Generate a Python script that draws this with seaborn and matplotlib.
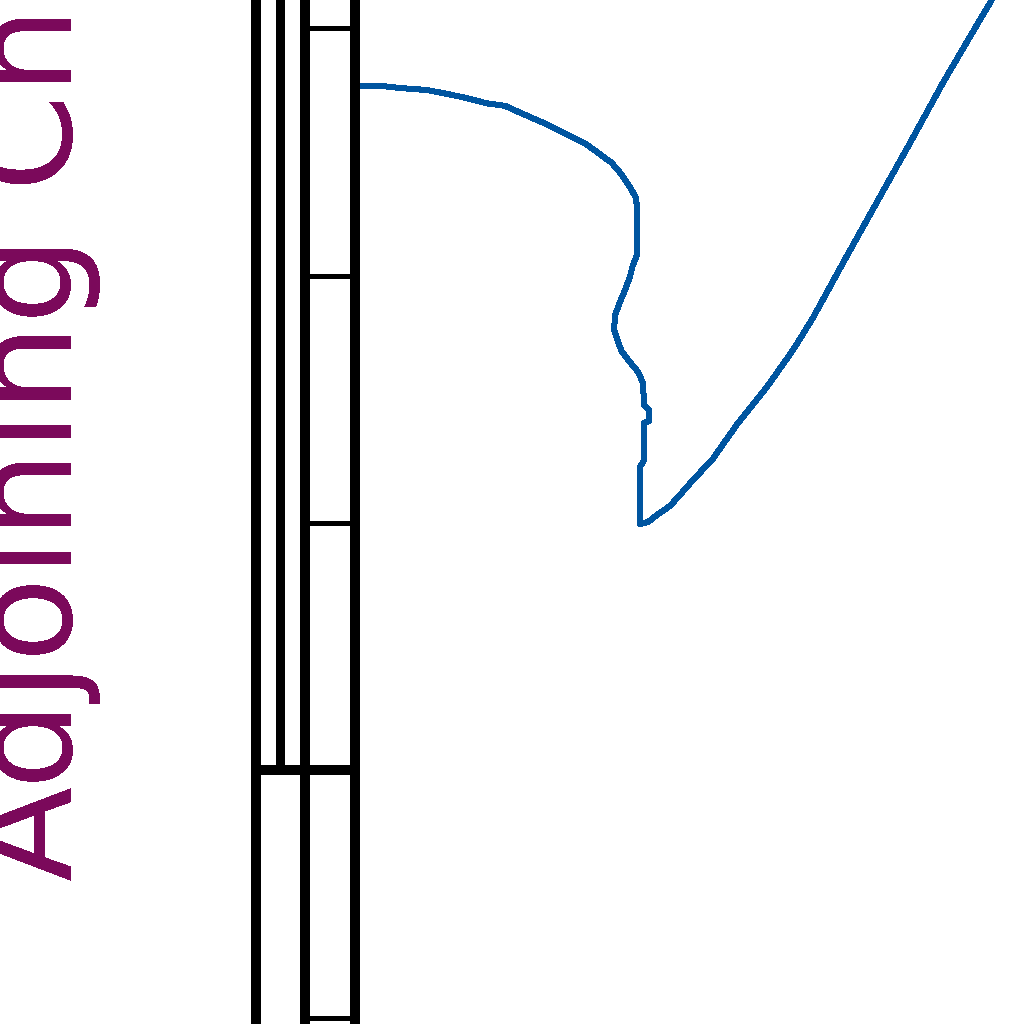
import matplotlib
matplotlib.use("Agg")
import matplotlib.pyplot as plt
import seaborn as sns
import pandas as pd

# ---- data ----
x_vals = [0.22, 1.35, 1.84, 2.93, 3.66, 4.51, 5.36, 6.09, 6.77, 7.70, 8.51, 9.32,
          9.81, 10.41, 10.82, 11.14, 11.39, 11.43, 11.43, 11.26, 11.14, 10.94, 10.74,
          10.54, 10.50, 10.66, 10.82, 11.14, 11.47, 11.67, 11.71, 11.91, 11.91, 11.71,
          11.71, 11.55, 11.55, 11.87, 12.23, 12.76, 13.16, 13.69, 14.46, 15.51, 16.68,
          17.74, 18.54, 19.76, 21.25, 22.47, 23.80, 25.01, 26.11]
y_vals = [-22.31, -22.35, -22.41, -22.49, -22.63, -22.81, -23.03, -23.13, -23.44,
          -23.84, -24.25, -24.65, -25.00, -25.44, -25.93, -26.41, -26.86, -27.34,
          -29.16, -29.57, -30.05, -30.58, -31.06, -31.59, -32.19, -32.68, -33.08,
          -33.49, -33.89, -34.34, -35.23, -35.43, -35.87, -35.96, -37.45, -37.74,
          -40.04, -39.96, -39.68, -39.31, -38.87, -38.26, -37.45, -35.96, -34.50,
          -33.00, -31.71, -29.48, -26.81, -24.63, -22.20, -20.14, -18.28]
y_major_ticks = [-60, -40, -30, -20]
y_minor_ticks = [-50]
y_label = "Adjoining Channel Power (dBc)"

BLUE = "#0055A0"
PURPLE = "#7A085A"

sns.set_theme(style="white")
plt.rcParams["font.family"] = ["DejaVu Sans"]
plt.rcParams["text.antialiased"] = False
plt.rcParams["lines.antialiased"] = False
plt.rcParams["patch.antialiased"] = False

DPI = 100
fig = plt.figure(figsize=(10.24, 10.24), dpi=DPI)
px = 72.0 / DPI  # points per pixel

left = 354.5 / 1024
rect = [left, 0.0, 1.0 - left, 1.0]
ax = fig.add_axes(rect)

df = pd.DataFrame({"x": x_vals, "y": y_vals})
sns.lineplot(data=df, x="x", y="y", sort=False, estimator=None, ax=ax,
             color=BLUE, linewidth=5 * px, antialiased=False, clip_on=True)

ax.set_xlim(0, 27.08)
ax.set_ylim(-60.26, -18.85)
ax.set_xlabel("")

for s in ["top", "right", "bottom"]:
    ax.spines[s].set_visible(False)
ax.spines["left"].set_visible(True)
ax.spines["left"].set_linewidth(10 * px)
ax.spines["left"].set_color("black")
ax.spines["left"].set_antialiased(False)

ax.set_xticks([])
ax.set_yticks(y_major_ticks)
ax.set_yticks(y_minor_ticks, minor=True)
ax.tick_params(axis="y", which="major", direction="out", length=49.5 * px,
               width=5 * px, color="black", left=True, labelleft=False)
ax.tick_params(axis="y", which="minor", direction="out", length=103.5 * px,
               width=10 * px, color="black", left=True, labelleft=False)

# extra frame lines drawn as outward-offset spines of companion axes
def frame_line(offset_px, width_px, lower=None):
    a = fig.add_axes(rect, sharey=ax, label=f"frame{offset_px}")
    a.patch.set_visible(False)
    for s in ["top", "right", "bottom"]:
        a.spines[s].set_visible(False)
    sp = a.spines["left"]
    sp.set_position(("outward", offset_px * px))
    sp.set_linewidth(width_px * px)
    sp.set_color("black")
    sp.set_antialiased(False)
    if lower is not None:
        sp.set_bounds(lower, -18.0)
    a.tick_params(left=False, labelleft=False, bottom=False, labelbottom=False,
                  which="both")
    a.set_xticks([])
    return a

frame_line(50, 10)              # inner line
frame_line(74.5, 9, lower=-50)  # short line ending at the thick tick
frame_line(99, 10)              # outer line

ax.set_ylabel(y_label, color=PURPLE, fontsize=139 * px)
lab = ax.yaxis.label
lab.set_rotation(90)
lab.set_rotation_mode("anchor")
lab.set_horizontalalignment("left")
lab.set_verticalalignment("baseline")
ax.yaxis.set_label_coords(72 / 1024, 143 / 1024, transform=fig.transFigure)

fig.savefig("out.png", dpi=DPI)
